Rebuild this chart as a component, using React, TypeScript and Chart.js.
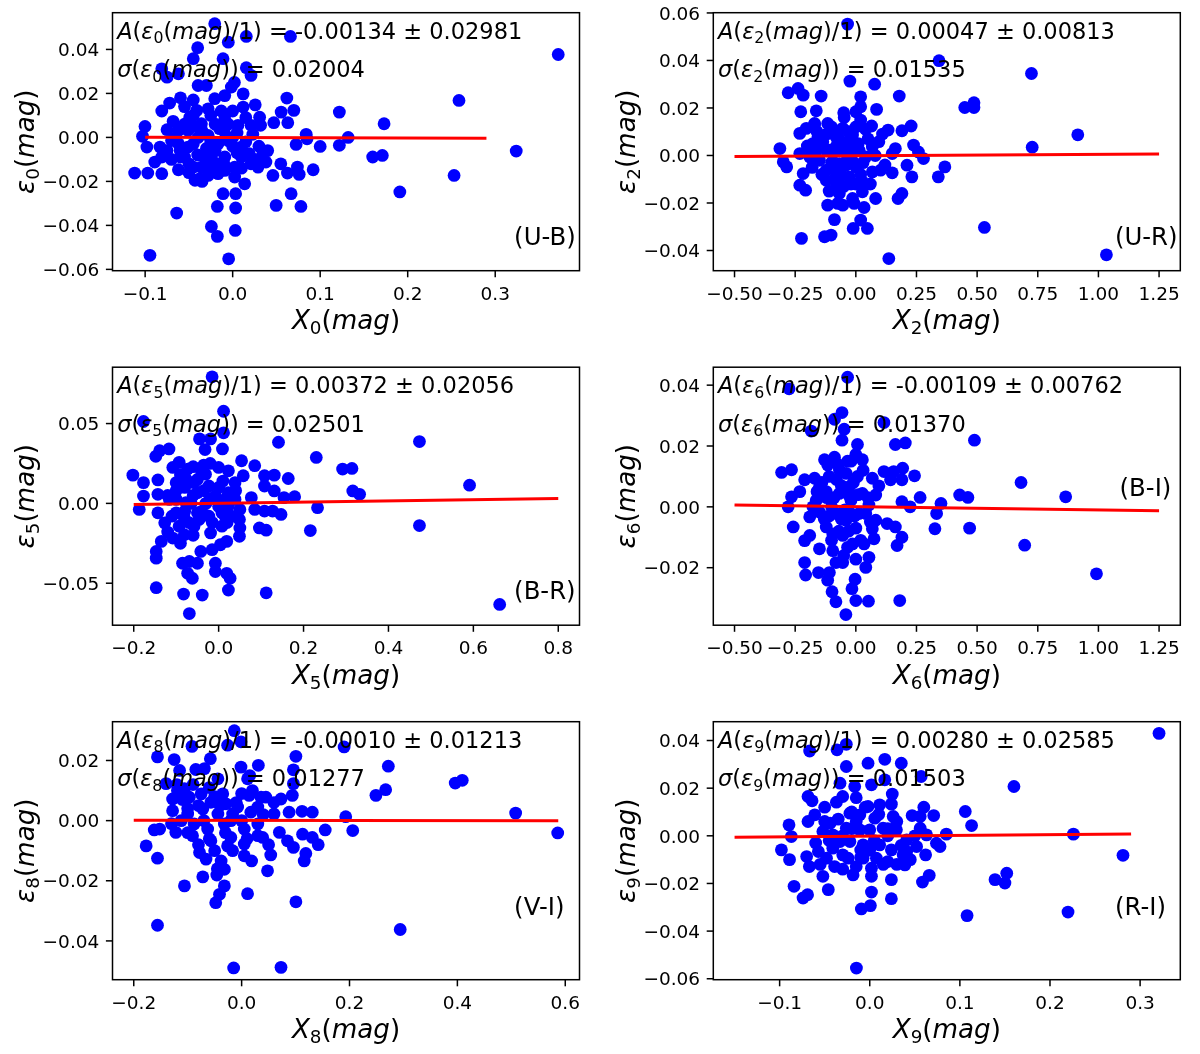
import React, { useEffect, useRef } from 'react';
import Chart from 'chart.js/auto';

// ---- data (x = colour index, y = residual) ----
const ubPoints: number[][] = [
  [-0.0205, 0.0517], [-0.04, 0.0408], [-0.005, 0.0433], [0.0156, 0.0459], [0.066, 0.0459], [-0.081, 0.0312], [-0.075, 0.0274],
  [-0.062, 0.0289], [-0.045, 0.0358], [-0.011, 0.0358], [0.0156, 0.0317], [0.021, 0.0282], [-0.0395, 0.0236], [-0.03, 0.0236],
  [-0.0015, 0.0229], [0.002, 0.025], [0.012, 0.0198], [-0.0596, 0.018], [-0.072, 0.0156], [-0.081, 0.012], [-0.0205, 0.0176],
  [-0.009, 0.019], [0.0258, 0.0148], [0.0619, 0.0179], [0.0554, 0.0115], [0.0699, 0.0123], [0.063, 0.0067], [0.047, 0.0067],
  [0.0308, 0.0092], [0.0319, 0.0055], [-0.1002, 0.005], [-0.103, 0.0005], [-0.098, -0.0044], [-0.068, 0.0073], [-0.075, 0.0035],
  [-0.049, 0.0092], [-0.041, 0.0123], [-0.028, 0.013], [-0.009, 0.0085], [0.012, 0.0138], [0.006, 0.0055], [0.023, 0.0014],
  [0.084, 0.0014], [0.085, -0.0006], [0.0725, -0.0032], [0.1, -0.0041], [0.1219, 0.0115], [0.1219, -0.0036], [0.132, 0.0],
  [0.173, 0.0062], [0.16, -0.0089], [0.171, -0.0082], [0.191, -0.0248], [-0.083, -0.0044], [-0.081, -0.0089], [-0.089, -0.0112],
  [-0.112, -0.0162], [-0.097, -0.0162], [-0.081, -0.0165], [-0.062, -0.0147], [-0.062, -0.0029], [-0.055, -0.0089], [-0.045, -0.0135],
  [-0.043, -0.0195], [-0.0376, -0.0188], [-0.028, -0.0173], [-0.0167, -0.0165], [-0.024, -0.0097], [-0.009, -0.0089], [0.0023, -0.0135],
  [0.0023, -0.018], [0.0137, -0.0211], [-0.011, -0.0256], [0.0034, -0.0256], [-0.0175, -0.0314], [0.0034, -0.0321], [0.029, -0.0135],
  [0.038, -0.0112], [0.046, -0.0173], [0.055, -0.012], [0.0626, -0.0162], [0.074, -0.0135], [0.076, -0.0168], [0.092, -0.0147],
  [0.0497, -0.0309], [0.0668, -0.0256], [0.078, -0.0314], [-0.064, -0.0344], [-0.0243, -0.0405], [-0.0175, -0.045], [0.003, -0.0423],
  [-0.0945, -0.0536], [-0.0046, -0.0552], [-0.051, -0.0044], [-0.0395, 0.0], [-0.028, 0.0009], [-0.0167, -0.0029], [-0.0053, -0.0014],
  [0.0099, -0.0044], [0.019, -0.0074], [0.0345, -0.0074], [-0.051, 0.0032], [-0.0357, 0.0062], [-0.0596, -0.0089], [-0.032, -0.0089],
  [-0.0186, -0.012], [-0.0357, -0.0135], [-0.009, -0.015], [0.021, -0.012], [0.0099, -0.0089], [-0.062, 0.0032], [-0.0698, -0.0014],
  [0.021, 0.0055], [-0.045, 0.005], [-0.03, -0.005], [-0.02, 0.006], [-0.05, -0.012], [-0.035, -0.02], [0.0, 0.0], [-0.01, 0.003],
  [-0.045, -0.003], [-0.025, -0.015], [0.005, -0.007], [-0.065, 0.0], [-0.055, 0.006], [-0.045, 0.01], [-0.035, 0.003],
  [-0.025, -0.002], [-0.015, 0.004], [-0.005, 0.006], [0.005, 0.002], [0.015, -0.002], [-0.06, -0.006], [-0.05, -0.016],
  [-0.04, -0.008], [-0.03, -0.012], [-0.02, -0.006], [-0.01, -0.012], [0.0, -0.004], [0.01, -0.014], [0.03, -0.004], [0.04, -0.006],
  [-0.07, -0.01], [-0.025, 0.01], [-0.013, 0.012], [0.0, 0.012], [-0.055, 0.014], [-0.075, -0.006], [-0.045, 0.017], [0.015, 0.009],
  [0.025, -0.01], [0.253, -0.0173], [0.2586, 0.0168], [0.324, -0.0062], [0.372, 0.0377],
];
const urPoints: number[][] = [
  [-0.034, 0.0553], [0.343, 0.0399], [-0.0245, 0.0313], [0.0775, 0.03], [-0.279, 0.0264], [-0.238, 0.0282], [-0.217, 0.0254],
  [-0.143, 0.025], [0.02, 0.0247], [0.179, 0.025], [0.02, 0.0205], [0.0856, 0.0194], [-0.227, 0.0184], [-0.163, 0.0188],
  [0.449, 0.0202], [0.487, 0.0222], [0.487, 0.0202], [-0.048, 0.016], [0.0, 0.0184], [0.02, 0.0149], [0.065, 0.0124], [0.133, 0.0107],
  [0.19, 0.0104], [0.228, 0.0124], [-0.231, 0.0093], [-0.204, 0.0114], [-0.17, 0.0135], [-0.116, 0.0135], [-0.313, 0.0029],
  [-0.285, -0.0048], [-0.231, 0.0008], [-0.217, -0.0076], [-0.231, -0.0125], [-0.207, -0.0146], [-0.299, -0.0027], [-0.163, 0.0022],
  [-0.122, -0.0062], [-0.122, -0.0104], [-0.082, -0.009], [-0.068, -0.016], [-0.075, -0.0202], [-0.116, -0.0209], [-0.054, -0.0209],
  [-0.088, -0.027], [-0.0136, -0.0181], [-0.0068, -0.0202], [0.034, -0.0219], [0.02, -0.0272], [-0.011, -0.0307], [0.0476, -0.0307],
  [-0.129, -0.0342], [-0.102, -0.0335], [-0.224, -0.0349], [0.136, -0.0434], [0.53, -0.0303], [0.0816, -0.0181], [0.174, -0.0181],
  [0.19, -0.016], [0.027, -0.0111], [0.027, -0.0153], [0.068, -0.0069], [0.102, -0.0062], [0.15, -0.0073], [0.211, -0.0041],
  [0.231, -0.009], [0.279, -0.0013], [0.258, 0.0015], [0.238, 0.0044], [0.163, 0.0029], [0.15, 0.0008], [0.34, -0.009],
  [0.367, -0.0048], [0.095, 0.0058], [0.068, 0.0036], [0.041, -0.0006], [-0.041, 0.005], [-0.082, 0.0079], [-0.0136, 0.0086],
  [-0.054, 0.0114], [-0.095, 0.0107], [-0.136, 0.0058], [-0.177, 0.005], [-0.19, -0.0006], [-0.15, -0.002], [-0.095, 0.0008],
  [-0.068, -0.0034], [-0.034, -0.0006], [0.0, -0.0048], [-0.027, -0.009], [0.0136, 0.0022], [-0.109, 0.0022], [-0.156, 0.0079],
  [-0.0136, 0.0008], [-0.068, -0.0118], [-0.06, 0.002], [-0.1, -0.003], [-0.04, -0.004], [-0.02, 0.004], [-0.08, 0.004],
  [-0.05, -0.013], [0.0, -0.012], [-0.03, 0.01], [-0.12, 0.009], [0.05, 0.007], [-0.2, 0.004], [-0.18, -0.005], [-0.16, 0.01],
  [-0.14, -0.008], [-0.12, 0.002], [-0.1, 0.012], [-0.09, -0.005], [-0.07, 0.007], [-0.06, -0.008], [-0.045, 0.002], [-0.03, 0.006],
  [-0.02, -0.012], [-0.01, -0.003], [0.01, 0.005], [0.03, -0.003], [0.04, 0.011], [0.06, -0.012], [0.08, 0.0], [0.11, 0.009],
  [0.12, -0.004], [-0.05, 0.018], [-0.11, -0.015], [-0.17, 0.013], [0.0, 0.012], [-0.08, -0.012], [0.02, -0.008],
  [0.724, 0.0345], [0.727, 0.0035], [0.915, 0.0087], [1.033, -0.0418],
];
const brPoints: number[][] = [
  [-0.0154, 0.0793], [-0.177, 0.0513], [0.0116, 0.0577], [0.0116, 0.0442], [-0.045, 0.0404], [-0.019, 0.0404], [-0.032, 0.0337],
  [0.009, 0.0341], [0.141, 0.0383], [0.23, 0.0288], [-0.117, 0.0341], [-0.139, 0.033], [-0.148, 0.0295], [-0.093, 0.0257],
  [-0.108, 0.0225], [-0.073, 0.0215], [-0.035, 0.024], [0.0, 0.0225], [0.023, 0.0204], [0.054, 0.0267], [0.085, 0.0236],
  [0.058, 0.0173], [0.108, 0.0173], [0.131, 0.0177], [0.164, 0.0156], [0.292, 0.0215], [0.314, 0.0219], [0.316, 0.0078],
  [0.332, 0.0057], [-0.202, 0.0177], [-0.177, 0.013], [-0.143, 0.0147], [-0.177, 0.0046], [-0.187, -0.0038], [-0.143, 0.0057],
  [-0.143, -0.0059], [-0.127, -0.0122], [-0.1, -0.0059], [-0.108, -0.0217], [-0.135, -0.0238], [-0.147, -0.0301], [-0.147, -0.0343],
  [-0.081, -0.009], [-0.081, -0.0196], [-0.058, -0.0143], [-0.046, -0.0101], [-0.019, -0.0185], [0.0154, -0.008], [0.019, -0.0238],
  [0.004, -0.0259], [-0.0154, -0.029], [-0.042, -0.0301], [-0.085, -0.0375], [-0.069, -0.0364], [-0.05, -0.0375], [-0.073, -0.0438],
  [-0.062, -0.0469], [-0.0077, -0.0375], [-0.0077, -0.0427], [0.019, -0.0438], [0.027, -0.0469], [0.023, -0.0543], [-0.0386, -0.0574],
  [-0.0826, -0.0568], [-0.147, -0.0528], [-0.069, -0.069], [0.112, -0.056], [0.049, -0.0101], [0.05, -0.0154], [0.049, -0.0206],
  [0.05, -0.0038], [0.096, -0.0154], [0.112, -0.0168], [0.085, -0.0038], [0.108, -0.0048], [0.127, -0.0048], [0.147, -0.0069],
  [0.154, 0.0036], [0.179, 0.0042], [0.077, 0.0036], [0.131, 0.0078], [0.108, 0.0109], [0.233, -0.0027], [0.216, -0.017],
  [0.0077, -0.0059], [0.0077, -0.0143], [-0.023, -0.008], [-0.05, -0.0059], [-0.077, 0.0004], [-0.1, 0.0025], [-0.05, 0.0067],
  [-0.023, 0.0109], [-0.0077, 0.0046], [0.023, 0.0067], [0.0386, 0.013], [-0.1, 0.013], [-0.077, 0.0152], [-0.058, 0.013],
  [-0.031, 0.0183], [0.023, -0.0017], [0.0386, 0.0025], [-0.093, -0.0143], [-0.116, 0.0025], [0.0, 0.0004], [-0.06, 0.005],
  [-0.03, 0.0], [-0.08, -0.005], [-0.04, 0.02], [0.0, 0.01], [-0.06, -0.02], [0.02, -0.012], [-0.1, 0.008], [-0.12, 0.005],
  [-0.11, -0.008], [-0.09, 0.018], [-0.08, 0.01], [-0.07, -0.012], [-0.065, 0.0], [-0.05, 0.015], [-0.04, -0.005], [-0.035, 0.008],
  [-0.02, 0.003], [-0.015, -0.012], [0.0, -0.002], [0.01, 0.014], [0.02, 0.004], [0.03, -0.008], [-0.09, -0.025], [-0.06, 0.023],
  [-0.02, 0.025], [-0.12, -0.018], [0.04, 0.008], [0.473, 0.0387], [0.473, -0.0139], [0.591, 0.0114], [0.662, -0.0633],
];
const biPoints: number[][] = [
  [-0.034, 0.0426], [-0.275, 0.0388], [-0.057, 0.031], [-0.088, 0.0288], [-0.048, 0.0255], [-0.184, 0.0249], [-0.057, 0.0219],
  [0.0068, 0.0205], [0.116, 0.0277], [0.163, 0.0205], [0.204, 0.021], [0.489, 0.0219], [-0.129, 0.0155], [-0.088, 0.0163],
  [-0.116, 0.0138], [-0.034, 0.015], [0.027, 0.0155], [0.0, 0.0172], [-0.306, 0.0113], [-0.265, 0.0122], [-0.211, 0.0089],
  [-0.17, 0.0094], [-0.068, 0.0122], [0.0068, 0.01], [0.068, 0.0094], [0.116, 0.0116], [0.156, 0.0116], [0.193, 0.0127],
  [0.242, 0.0102], [0.143, 0.0089], [0.19, 0.0089], [0.095, 0.0069], [0.082, 0.0039], [-0.265, 0.0033], [-0.231, 0.005],
  [-0.279, 0.0], [0.265, 0.0031], [0.19, 0.0017], [0.224, 0.0], [0.351, 0.0011], [0.333, -0.0022], [0.428, 0.0039], [0.462, 0.0031],
  [0.326, -0.0072], [0.469, -0.007], [-0.258, -0.0066], [-0.19, -0.0033], [-0.19, -0.0094], [-0.211, -0.0111], [-0.15, -0.0138],
  [-0.211, -0.0183], [-0.207, -0.0224], [-0.154, -0.0216], [-0.109, -0.0216], [-0.116, -0.0241], [-0.098, -0.0279], [-0.082, -0.0312],
  [-0.041, -0.0354], [0.0, -0.0308], [0.052, -0.031], [0.181, -0.0308], [-0.016, -0.0269], [-0.003, -0.0238], [-0.082, -0.0183],
  [-0.054, -0.0183], [-0.095, -0.0144], [-0.034, -0.0133], [0.0, -0.0172], [0.041, -0.0199], [0.054, -0.0166], [-0.0136, -0.0122],
  [0.034, -0.0122], [0.075, -0.0105], [0.068, -0.0072], [0.17, -0.0127], [0.19, -0.01], [0.163, -0.0066], [0.129, -0.0055],
  [0.082, -0.0044], [0.0136, -0.0022], [-0.041, -0.0044], [-0.082, -0.0022], [-0.122, -0.0066], [-0.095, -0.0089], [-0.054, -0.0094],
  [-0.15, -0.0017], [-0.163, 0.0022], [-0.122, 0.005], [-0.068, 0.0044], [-0.02, 0.0022], [0.027, 0.0044], [0.054, 0.0006],
  [-0.177, 0.0], [-0.027, 0.0066], [-0.15, 0.0066], [-0.02, -0.0022], [0.041, -0.0022], [-0.1, 0.0], [-0.06, -0.004], [-0.03, 0.004],
  [-0.08, 0.009], [0.0, -0.007], [-0.12, 0.003], [0.05, 0.003], [-0.05, -0.016], [-0.14, 0.008], [-0.13, -0.004], [-0.11, 0.01],
  [-0.1, -0.011], [-0.09, 0.003], [-0.075, 0.014], [-0.07, -0.008], [-0.06, 0.007], [-0.045, -0.001], [-0.04, 0.011], [-0.03, -0.008],
  [-0.01, 0.008], [-0.005, -0.003], [0.01, 0.004], [0.02, -0.011], [0.03, 0.012], [-0.11, -0.003], [-0.16, 0.005], [0.06, -0.005],
  [-0.02, 0.015], [0.681, 0.008], [0.696, -0.0126], [0.865, 0.0033], [0.992, -0.022],
];
const viPoints: number[][] = [
  [-0.0136, 0.0299], [-0.0012, 0.0262], [-0.026, 0.0251], [-0.092, 0.0247], [-0.156, 0.0212], [-0.125, 0.0203], [-0.058, 0.0206],
  [0.1006, 0.0214], [0.19, 0.0245], [0.272, 0.0181], [-0.115, 0.0167], [-0.069, 0.0173], [-0.0012, 0.0178], [0.031, 0.0184],
  [0.011, 0.0139], [0.096, 0.0169], [0.096, 0.0123], [-0.14, 0.0123], [-0.106, 0.0106], [-0.128, 0.0072], [-0.097, 0.0078],
  [-0.075, 0.0089], [-0.035, 0.0089], [-0.044, 0.0139], [-0.029, 0.0056], [0.014, 0.0084], [0.036, 0.0078], [0.045, 0.0078],
  [0.073, 0.0072], [0.094, 0.0084], [0.249, 0.0084], [0.267, 0.0103], [-0.128, 0.0033], [-0.1, 0.0022], [-0.072, 0.0039],
  [-0.0074, 0.0045], [0.017, 0.0028], [0.06, 0.0022], [0.088, 0.0028], [0.112, 0.0031], [0.131, 0.0028], [0.193, 0.0013],
  [0.206, -0.0033], [0.155, -0.0031], [-0.162, -0.0031], [-0.152, -0.0028], [-0.122, -0.0039], [-0.091, -0.005], [-0.063, -0.0028],
  [-0.032, -0.0011], [0.0049, -0.0028], [0.03, -0.0011], [0.07, -0.0039], [0.113, -0.0045], [0.131, -0.0056], [0.085, -0.0067],
  [0.096, -0.0089], [0.142, -0.008], [-0.177, -0.0084], [-0.156, -0.0125], [-0.078, -0.0106], [-0.066, -0.0128], [-0.038, -0.0134],
  [-0.0167, -0.01], [0.0049, -0.0117], [0.0185, -0.0134], [0.054, -0.0114], [0.116, -0.0134], [0.119, -0.0109], [0.048, -0.0167],
  [-0.032, -0.0162], [-0.046, -0.0181], [-0.072, -0.0187], [-0.106, -0.0217], [-0.032, -0.0217], [-0.041, -0.0245], [-0.048, -0.0273],
  [0.011, -0.0243], [0.1006, -0.027], [-0.156, -0.0348], [0.294, -0.0362], [-0.0148, -0.049], [0.073, -0.0488], [-0.057, -0.0067],
  [-0.02, -0.0056], [-0.044, 0.0022], [-0.088, -0.0011], [-0.112, 0.0], [0.039, -0.0056], [-0.0167, 0.0022], [0.03, 0.0045],
  [-0.057, 0.0061], [-0.119, 0.01], [-0.026, -0.0084], [0.0049, -0.0078], [-0.08, 0.005], [-0.05, 0.008], [-0.02, 0.0],
  [-0.1, 0.004], [0.03, -0.005], [-0.06, -0.006], [0.0, 0.009], [-0.12, 0.012], [-0.11, 0.007], [-0.1, -0.004], [-0.09, 0.012],
  [-0.08, -0.008], [-0.07, 0.0], [-0.06, 0.011], [-0.05, -0.01], [-0.04, 0.005], [-0.03, -0.004], [-0.01, 0.006], [0.0, 0.0],
  [0.01, -0.006], [0.02, 0.01], [0.04, 0.002], [0.05, -0.008], [-0.085, 0.017], [-0.13, -0.001], [0.06, 0.006], [-0.045, -0.016],
  [0.015, 0.015], [0.396, 0.0125], [0.409, 0.0134], [0.508, 0.0025], [0.586, -0.0041],
];
const riPoints: number[][] = [
  [-0.0667, 0.0356], [-0.0363, 0.0361], [-0.026, 0.0384], [-0.026, 0.0291], [-0.0019, 0.0305], [0.0167, 0.0321], [0.035, 0.0305],
  [0.057, 0.0249], [0.0167, 0.0235], [-0.033, 0.0221], [-0.0167, 0.0207], [0.0019, 0.0214], [-0.0685, 0.0165], [-0.064, 0.0147],
  [-0.037, 0.0141], [-0.03, 0.0165], [0.025, 0.0175], [0.024, 0.0133], [0.011, 0.013], [-0.0019, 0.0123], [-0.061, 0.0088],
  [-0.0685, 0.006], [-0.0896, 0.0046], [-0.087, -0.0003], [-0.098, -0.0059], [-0.089, -0.01], [-0.022, 0.0095], [-0.011, 0.0088],
  [0.0056, 0.0074], [0.026, 0.0081], [0.047, 0.0085], [0.056, 0.0081], [0.071, 0.0085], [0.106, 0.0102], [0.113, 0.0043],
  [0.085, 0.0007], [0.056, 0.0032], [-0.044, 0.0053], [-0.052, 0.0018], [-0.011, 0.0025], [0.0148, 0.0032], [0.0296, 0.0025],
  [0.041, -0.0017], [0.063, 0.0004], [0.074, -0.0031], [0.078, -0.0045], [0.052, -0.0045], [0.062, -0.008], [0.037, -0.008],
  [0.039, -0.0122], [0.024, -0.0059], [0.02, -0.0108], [0.0074, -0.0094], [0.0019, -0.0136], [0.0019, -0.017], [-0.015, -0.0129],
  [-0.0185, -0.0164], [-0.03, -0.008], [-0.039, -0.0129], [-0.057, -0.0066], [-0.07, -0.0087], [-0.067, -0.0129], [-0.052, -0.017],
  [-0.046, -0.0226], [-0.084, -0.0212], [-0.074, -0.0261], [-0.069, -0.0247], [0.0019, -0.0236], [-0.0093, -0.0307], [0.0007, -0.0293],
  [0.024, -0.0184], [0.024, -0.0264], [0.0585, -0.0194], [0.066, -0.0166], [0.108, -0.0335], [-0.0148, -0.0555], [0.139, -0.0184],
  [-0.033, -0.0024], [-0.022, -0.0024], [-0.0074, -0.0038], [0.011, -0.0038], [-0.041, -0.0052], [-0.048, -0.0094], [-0.024, -0.0094],
  [-0.0074, -0.0094], [-0.041, 0.0004], [-0.026, 0.0032], [0.0, 0.0025], [-0.015, 0.006], [0.041, -0.0066], [-0.03, 0.0],
  [-0.05, 0.006], [0.0, -0.006], [-0.02, 0.01], [0.02, 0.003], [-0.06, -0.003], [0.03, -0.012], [-0.01, -0.009], [-0.05, 0.012],
  [-0.045, -0.002], [-0.035, 0.007], [-0.03, -0.014], [-0.02, 0.003], [-0.01, -0.006], [-0.005, 0.012], [0.005, -0.002],
  [0.01, 0.009], [0.015, -0.012], [0.03, 0.006], [0.035, -0.004], [0.05, 0.0], [0.045, -0.01], [-0.055, -0.012], [0.06, 0.012],
  [-0.015, 0.016], [0.02, 0.0], [0.321, 0.043], [0.16, 0.0207], [0.226, 0.0007], [0.281, -0.0082], [0.152, -0.0157], [0.15, -0.0198],
  [0.22, -0.032],
];

// linear fits (end points of the red lines)
const ubFit = [[-0.1, 0.0001], [0.29, -0.0004]];
const urFit = [[-0.5, -0.0004], [1.25, 0.0006]];
const brFit = [[-0.2, -0.0007], [0.8, 0.0031]];
const biFit = [[-0.5, 0.0006], [1.25, -0.0013]];
const viFit = [[-0.2, 0.0001], [0.587, 0.0]];
const riFit = [[-0.15, -0.0006], [0.29, 0.0008]];

// ticks
const ubXTicks = [-0.1, 0, 0.1, 0.2, 0.3];
const ubYTicks = [-0.06, -0.04, -0.02, 0, 0.02, 0.04];
const urXTicks = [-0.5, -0.25, 0, 0.25, 0.5, 0.75, 1, 1.25];
const urYTicks = [-0.04, -0.02, 0, 0.02, 0.04, 0.06];
const brXTicks = [-0.2, 0, 0.2, 0.4, 0.6, 0.8];
const brYTicks = [-0.05, 0, 0.05];
const biXTicks = [-0.5, -0.25, 0, 0.25, 0.5, 0.75, 1, 1.25];
const biYTicks = [-0.02, 0, 0.02, 0.04];
const viXTicks = [-0.2, 0, 0.2, 0.4, 0.6];
const viYTicks = [-0.04, -0.02, 0, 0.02];
const riXTicks = [-0.1, 0, 0.1, 0.2, 0.3];
const riYTicks = [-0.06, -0.04, -0.02, 0, 0.02, 0.04];

// fit results printed in the panels
const panelIndex = ['0', '2', '5', '6', '8', '9'];
const slopeText = ['-0.00134 ± 0.02981', '0.00047 ± 0.00813', '0.00372 ± 0.02056', '-0.00109 ± 0.00762', '-0.00010 ± 0.01213', '0.00280 ± 0.02585'];
const sigmaText = ['0.02004', '0.01535', '0.02501', '0.01370', '0.01277', '0.01503'];
const bandText = ['(U-B)', '(U-R)', '(B-R)', '(B-I)', '(V-I)', '(R-I)'];

const FONT = '"DejaVu Sans"';
const TICK_PX = 18.5;
const NOTE_PX = 22.5;
const BAND_PX = 24.4;
const TITLE_PX = 26.2;

type Seg = { t: string; it?: boolean; sub?: boolean };

interface PanelSpec {
  points: number[][];
  fit: number[][];
  xTicks: number[];
  yTicks: number[];
  xDec: number;
  yDec: number;
  xRange: number[];
  yRange: number[];
  idx: string;
  slope: string;
  sigma: string;
  band: string;
  bandPos: number[];
  col: number;
  row: number;
}

const COL_LEFT = [0, 600];
const ROW_TOP = [0, 354, 700];
const CANVAS_W = 600;
const CANVAS_H = 354;
const FRAME_X = [[112.5, 579.5], [713.3, 1180.3]];
const FRAME_Y = [[12.7, 270.7], [367.2, 625.2], [721.7, 979.7]];

const fmt = (v: number, d: number) => {
  const s = Math.abs(v).toFixed(d);
  return v < -1e-9 ? '\u2212' + s : s;
};

const segFont = (s: Seg, size: number) => `${s.it ? 'italic ' : ''}${s.sub ? size * 0.7 : size}px ${FONT}`;

const richWidth = (ctx: CanvasRenderingContext2D, segs: Seg[], size: number) => {
  let w = 0;
  for (const s of segs) {
    ctx.font = segFont(s, size);
    w += ctx.measureText(s.t).width;
  }
  return w;
};

const drawRich = (ctx: CanvasRenderingContext2D, segs: Seg[], x: number, y: number, size: number) => {
  let cx = x;
  ctx.textAlign = 'left';
  ctx.textBaseline = 'alphabetic';
  for (const s of segs) {
    ctx.font = segFont(s, size);
    ctx.fillText(s.t, cx, s.sub ? y + size * 0.2 : y);
    cx += ctx.measureText(s.t).width;
  }
};

const Panel: React.FC<{ spec: PanelSpec }> = ({ spec }) => {
  const canvasRef = useRef<HTMLCanvasElement | null>(null);

  useEffect(() => {
    const ctx = canvasRef.current?.getContext('2d');
    if (!ctx) {
      return;
    }
    const left = COL_LEFT[spec.col];
    const top = ROW_TOP[spec.row];

    const axesPlugin = {
      id: 'mplAxes',
      afterDatasetsDraw(chart: any) {
        const c: CanvasRenderingContext2D = chart.ctx;
        const a = chart.chartArea;
        const xs = chart.scales.x;
        const ys = chart.scales.y;
        const w = a.right - a.left;
        const h = a.bottom - a.top;
        c.save();
        c.strokeStyle = '#000';
        c.fillStyle = '#000';
        c.lineWidth = 1.5;
        c.strokeRect(a.left, a.top, w, h);

        // x ticks
        c.font = `${TICK_PX}px ${FONT}`;
        c.textAlign = 'center';
        c.textBaseline = 'alphabetic';
        for (const v of spec.xTicks) {
          const px = xs.getPixelForValue(v);
          c.beginPath();
          c.moveTo(px, a.bottom);
          c.lineTo(px, a.bottom + 6.6);
          c.stroke();
          c.fillText(fmt(v, spec.xDec), px, a.bottom + 28.8);
        }
        // y ticks
        c.textAlign = 'right';
        for (const v of spec.yTicks) {
          const py = ys.getPixelForValue(v);
          c.beginPath();
          c.moveTo(a.left - 6.6, py);
          c.lineTo(a.left, py);
          c.stroke();
          c.fillText(fmt(v, spec.yDec), a.left - 13.2, py + 6.7);
        }

        // axis titles
        const xTitle: Seg[] = [{ t: 'X', it: true }, { t: spec.idx, sub: true }, { t: '(' }, { t: 'mag', it: true }, { t: ')' }];
        const xw = richWidth(c, xTitle, TITLE_PX);
        drawRich(c, xTitle, (a.left + a.right) / 2 - xw / 2, a.bottom + 58.5, TITLE_PX);

        const yTitle: Seg[] = [{ t: 'ε', it: true }, { t: spec.idx, sub: true }, { t: '(' }, { t: 'mag', it: true }, { t: ')' }];
        const yw = richWidth(c, yTitle, TITLE_PX);
        c.save();
        c.translate(a.left - 78.5, (a.top + a.bottom) / 2);
        c.rotate(-Math.PI / 2);
        drawRich(c, yTitle, -yw / 2, 0, TITLE_PX);
        c.restore();

        // fit notes
        const line1: Seg[] = [
          { t: 'A', it: true }, { t: '(' }, { t: 'ε', it: true }, { t: spec.idx, sub: true }, { t: '(' },
          { t: 'mag', it: true }, { t: ')/1)' }, { t: ' = ' + spec.slope },
        ];
        const line2: Seg[] = [
          { t: 'σ', it: true }, { t: '(' }, { t: 'ε', it: true }, { t: spec.idx, sub: true }, { t: '(' },
          { t: 'mag', it: true }, { t: '))' }, { t: ' = ' + spec.sigma },
        ];
        drawRich(c, line1, a.left + 0.01 * w, a.bottom - 0.9 * h, NOTE_PX);
        drawRich(c, line2, a.left + 0.01 * w, a.bottom - 0.75 * h, NOTE_PX);

        // band name
        c.font = `${BAND_PX}px ${FONT}`;
        c.textAlign = 'left';
        c.fillText(spec.band, a.left + spec.bandPos[0] * w, a.bottom - spec.bandPos[1] * h);
        c.restore();
      },
    };

    const myChart = new Chart(ctx, {
      type: 'scatter',
      data: {
        datasets: [
          {
            label: 'fit',
            data: spec.fit.map(([x, y]) => ({ x, y })),
            showLine: true,
            borderColor: '#ff0000',
            borderWidth: 3,
            pointRadius: 0,
            fill: false,
            clip: 0,
          },
          {
            label: 'residuals',
            data: spec.points.map(([x, y]) => ({ x, y })),
            backgroundColor: '#0000ff',
            borderWidth: 0,
            pointRadius: 6.4,
            pointHoverRadius: 6.4,
            clip: 0,
          },
        ],
      },
      options: {
        responsive: false,
        animation: false,
        events: [],
        layout: {
          padding: {
            left: FRAME_X[spec.col][0] - left,
            right: left + CANVAS_W - FRAME_X[spec.col][1],
            top: FRAME_Y[spec.row][0] - top,
            bottom: top + CANVAS_H - FRAME_Y[spec.row][1],
          },
        },
        scales: {
          x: { type: 'linear', display: false, min: spec.xRange[0], max: spec.xRange[1] },
          y: { type: 'linear', display: false, min: spec.yRange[0], max: spec.yRange[1] },
        },
        plugins: {
          legend: { display: false },
          tooltip: { enabled: false },
        },
      },
      plugins: [axesPlugin],
    });

    return () => {
      myChart.destroy();
    };
  }, [spec]);

  return (
    <div
      style={{
        position: 'absolute',
        left: COL_LEFT[spec.col],
        top: ROW_TOP[spec.row],
        width: CANVAS_W,
        height: CANVAS_H,
      }}
    >
      <canvas ref={canvasRef} width={CANVAS_W} height={CANVAS_H} style={{ display: 'block' }} />
    </div>
  );
};

const panels: PanelSpec[] = [
  { points: ubPoints, fit: ubFit, xTicks: ubXTicks, yTicks: ubYTicks, xDec: 1, yDec: 2, xRange: [-0.1373, 0.3963], yRange: [-0.0606, 0.0567], col: 0, row: 0, bandPos: [0.86, 0.1] },
  { points: urPoints, fit: urFit, xTicks: urXTicks, yTicks: urYTicks, xDec: 2, yDec: 2, xRange: [-0.5875, 1.3375], yRange: [-0.0485, 0.0601], col: 1, row: 0, bandPos: [0.86, 0.1] },
  { points: brPoints, fit: brFit, xTicks: brXTicks, yTicks: brYTicks, xDec: 1, yDec: 2, xRange: [-0.25, 0.85], yRange: [-0.0763, 0.0853], col: 0, row: 1, bandPos: [0.86, 0.1] },
  { points: biPoints, fit: biFit, xTicks: biXTicks, yTicks: biYTicks, xDec: 2, yDec: 2, xRange: [-0.5875, 1.3375], yRange: [-0.0389, 0.0459], col: 1, row: 1, bandPos: [0.87, 0.5] },
  { points: viPoints, fit: viFit, xTicks: viXTicks, yTicks: viYTicks, xDec: 1, yDec: 2, xRange: [-0.2394, 0.6264], yRange: [-0.0529, 0.0329], col: 0, row: 2, bandPos: [0.86, 0.25] },
  { points: riPoints, fit: riFit, xTicks: riXTicks, yTicks: riYTicks, xDec: 1, yDec: 2, xRange: [-0.1736, 0.3446], yRange: [-0.0604, 0.0479], col: 1, row: 2, bandPos: [0.86, 0.25] },
].map((p, i) => ({ ...p, idx: panelIndex[i], slope: slopeText[i], sigma: sigmaText[i], band: bandText[i] }));

export default function App() {
  return (
    <div style={{ position: 'absolute', left: 0, top: 0, width: 1200, height: 1054, background: '#fff' }}>
      {panels.map((p, i) => (
        <Panel key={i} spec={p} />
      ))}
    </div>
  );
}
